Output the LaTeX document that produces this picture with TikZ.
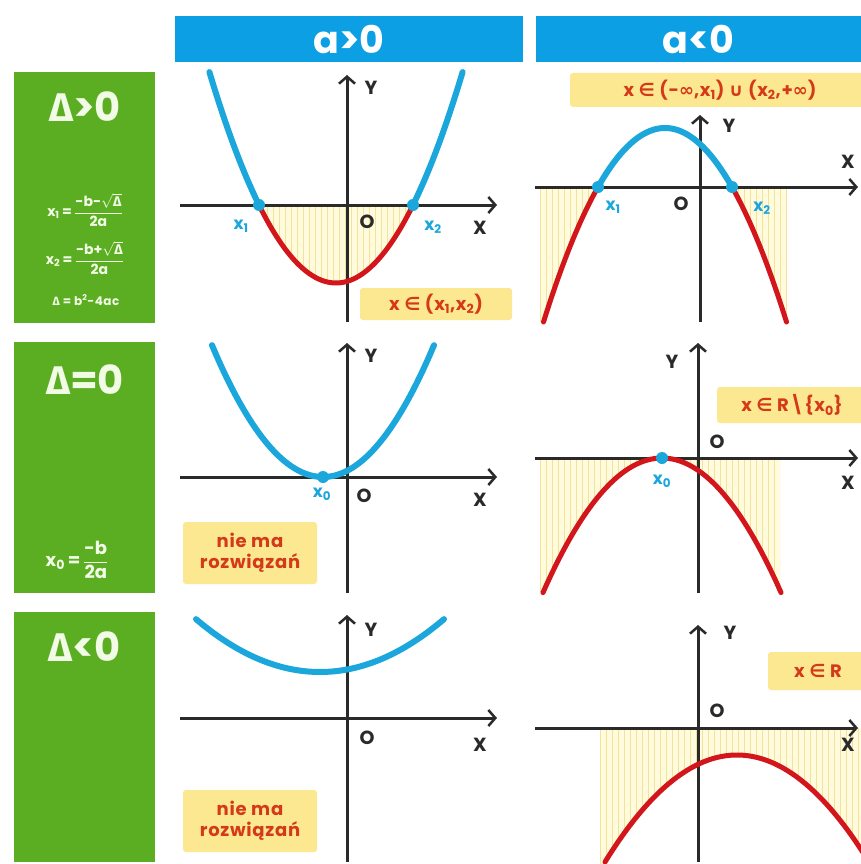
\documentclass[tikz,border=0pt]{standalone}
\usepackage{fontspec}
\usepackage{amsmath}
\setmainfont{Poppins}
\newfontfamily\sym{DejaVu Sans}
\newfontfamily\grk{Fira Sans}
\usetikzlibrary{arrows.meta}
\definecolor{grn}{HTML}{5BAE22}
\definecolor{hdr}{HTML}{0C9FE3}
\definecolor{cblue}{HTML}{1BA6DC}
\definecolor{cred}{HTML}{D2161C}
\definecolor{lbl}{HTML}{FCE890}
\definecolor{ltxt}{HTML}{D43A1A}
\definecolor{axc}{HTML}{2A2A2A}
\definecolor{hbg}{HTML}{FFFBDC}
\definecolor{hln}{HTML}{F2E39A}
\definecolor{gtxt}{HTML}{F2FBE6}
\newcommand{\hatchbox}[4]{%
  \begin{scope}
  \clip (#1,#2) rectangle (#3,#4);
  \fill[hbg] (#1,#2) rectangle (#3,#4);
  \foreach \hx in {0,6,...,330} {\draw[hln,line width=1] ({#1+\hx},#2) -- ({#1+\hx},#4);}
  \end{scope}
}
\begin{document}
\begin{tikzpicture}[x=1pt,y=-1pt,font=\bfseries,
  hdrbox/.style={fill=hdr,text=white,inner sep=0,font=\fontsize{38}{40}\selectfont\bfseries},
  gbox/.style={fill=grn,inner sep=0},
  gtitle/.style={text=gtxt,inner sep=0,font=\fontsize{40}{42}\selectfont\bfseries},
  gform/.style={text=gtxt,inner sep=0,font=\fontsize{14}{15}\selectfont\bfseries},
  axisline/.style={draw=axc,line width=3,-{Straight Barb[length=7,width=16,line width=2.5]}},
  bluec/.style={draw=cblue,line width=6,line cap=round},
  redc/.style={draw=cred,line width=5,line cap=round},
  rootdot/.style={fill=cblue,circle,inner sep=0,minimum size=12},
  axlbl/.style={text=axc,inner sep=0,font=\fontsize{19}{20}\selectfont\bfseries},
  rootlbl/.style={text=cblue,inner sep=0,font=\fontsize{17}{18}\selectfont\bfseries},
  lblbox/.style={fill=lbl,text=ltxt,rounded corners=3,inner sep=0,font=\fontsize{18}{21}\selectfont\bfseries\addfontfeature{LetterSpace=4},align=center}
]
\useasboundingbox (0,0) rectangle (861,864);
\fill[white] (0,0) rectangle (861,864);

% headers
\node[hdrbox,minimum width=348,minimum height=46] (ha) at (349,39) {a>0};
\node[hdrbox,minimum width=325,minimum height=46] (hb) at (698.5,39) {a<0};

% green boxes
\node[gbox,minimum width=141,minimum height=251] (g1) at (84.5,197.5) {};
\node[gbox,minimum width=141,minimum height=251] (g2) at (84.5,467.5) {};
\node[gbox,minimum width=141,minimum height=250] (g3) at (84.5,737) {};
\node[gtitle] (t1) at (85,107) {{\grk Δ}>0};
\node[gtitle] (t2) at (85,380) {{\grk Δ}=0};
\node[gtitle] (t3) at (85,647) {{\grk Δ}<0};
\node[gform] (f1) at (85,210) {$\text{x}_{\text{1}}\,\text{=}\,\dfrac{\text{-b-}\sqrt{\text{\grk Δ}}}{\text{2a}}$};
\node[gform] (f2) at (85,258) {$\text{x}_{\text{2}}\,\text{=}\,\dfrac{\text{-b+}\sqrt{\text{\grk Δ}}}{\text{2a}}$};
\node[gform,font=\fontsize{12}{13}\selectfont\bfseries\addfontfeature{LetterSpace=4}] (f3) at (86,300) {{\grk Δ} = b\textsuperscript{2}-4ac};
\node[gform,font=\fontsize{18}{19}\selectfont\bfseries] (f4) at (77,560) {$\text{x}_{\text{0}}\,\text{=}\,\dfrac{\text{-b}}{\text{2a}}$};

%%%%%%%% Row 1 left
\begin{scope}
  \clip plot[domain=259:413,samples=40] (\x,{283-1.316*((\x-336)/10)^2}) -- cycle;
  \hatchbox{255}{205}{420}{290}
\end{scope}
\draw[axisline] (180,205) -- (497,205);
\draw[axisline] (347,322) -- (347,75);
\draw[bluec] plot[domain=209.4:259,samples=30,smooth] (\x,{283-1.316*((\x-336)/10)^2});
\draw[bluec] plot[domain=413:462.6,samples=30,smooth] (\x,{283-1.316*((\x-336)/10)^2});
\draw[redc] plot[domain=259:413,samples=50,smooth] (\x,{283-1.316*((\x-336)/10)^2});
\node[rootdot] (a1) at (259,205) {};
\node[rootdot] (a2) at (413,205) {};
\node[rootlbl] (a1l) at (241,226) {x\textsubscript{1}};
\node[rootlbl] (a2l) at (433,227) {x\textsubscript{2}};
\node[axlbl] (aO) at (367,222) {O};
\node[axlbl] (aX) at (480,228) {X};
\node[axlbl] (aY) at (371,88) {Y};
\node[lblbox,minimum width=152,minimum height=32] (ab) at (436,304) {x {\sym ∈} (x\textsubscript{1},x\textsubscript{2})};

%%%%%%%% Row 1 right
\hatchbox{540}{187}{787}{322}
\fill[white] plot[domain=543.5:786.5,samples=50] (\x,{128+1.314*((\x-665)/10)^2}) -- cycle;
\draw[axisline] (535,187) -- (858,187);
\draw[axisline] (700,322) -- (700,115);
\draw[bluec] plot[domain=598:732,samples=50,smooth] (\x,{128+1.314*((\x-665)/10)^2});
\draw[redc] plot[domain=543.5:598,samples=30,smooth] (\x,{128+1.314*((\x-665)/10)^2});
\draw[redc] plot[domain=732:786.5,samples=30,smooth] (\x,{128+1.314*((\x-665)/10)^2});
\node[rootdot] (b1) at (598,187) {};
\node[rootdot] (b2) at (732,187) {};
\node[rootlbl] (b1l) at (613,207) {x\textsubscript{1}};
\node[rootlbl] (b2l) at (762,208) {x\textsubscript{2}};
\node[axlbl] (bO) at (681,204) {O};
\node[axlbl] (bX) at (848,162) {X};
\node[axlbl] (bY) at (729,126) {Y};
\node[lblbox,minimum width=300,minimum height=34] (bb) at (720,90) {x {\sym ∈} (-{\sym ∞},x\textsubscript{1}) {\sym ∪} (x\textsubscript{2},+{\sym ∞})};

%%%%%%%% Row 2 left
\draw[axisline] (180,477) -- (497,477);
\draw[axisline] (347,593) -- (347,343);
\draw[bluec] plot[domain=212:434,samples=60,smooth] (\x,{477-1.07*((\x-323)/10)^2});
\node[rootdot] (c0) at (323,477) {};
\node[rootlbl] (c0l) at (322,494) {x\textsubscript{0}};
\node[axlbl] (cO) at (364,496) {O};
\node[axlbl] (cX) at (480,500) {X};
\node[axlbl] (cY) at (371,356) {Y};
\node[lblbox,minimum width=134,minimum height=62] (cb) at (250,553) {nie ma\\rozwiązań};

%%%%%%%% Row 2 right
\hatchbox{540}{458}{780}{592}
\fill[white] plot[domain=543:781,samples=50] (\x,{458+0.95*((\x-662)/10)^2}) -- cycle;
\draw[axisline] (535,458) -- (858,458);
\draw[axisline] (698,593) -- (698,343);
\draw[redc] plot[domain=543:781,samples=60,smooth] (\x,{458+0.95*((\x-662)/10)^2});
\node[rootdot] (d0) at (662,458) {};
\node[rootlbl] (d0l) at (662,481) {x\textsubscript{0}};
\node[axlbl] (dO) at (717,442) {O};
\node[axlbl] (dX) at (848,483) {X};
\node[axlbl] (dY) at (672,362) {Y};
\node[lblbox,minimum width=150,minimum height=36] (db) at (792,405) {x {\sym ∈} R\textbackslash\{x\textsubscript{0}\}};

%%%%%%%% Row 3 left
\draw[axisline] (180,718) -- (497,718);
\draw[axisline] (347,862) -- (347,615);
\draw[bluec] plot[domain=196:444,samples=60,smooth] (\x,{672-0.344*((\x-320)/10)^2});
\node[axlbl] (eO) at (367,738) {O};
\node[axlbl] (eX) at (480,745) {X};
\node[axlbl] (eY) at (371,630) {Y};
\node[lblbox,minimum width=134,minimum height=62] (eb) at (250,821) {nie ma\\rozwiązań};

%%%%%%%% Row 3 right
\hatchbox{600}{728}{861}{864}
\fill[white] plot[domain=600:870,samples=50] (\x,{755+0.614*((\x-737)/10)^2}) -- cycle;
\draw[axisline] (535,728) -- (858,728);
\draw[axisline] (698,862) -- (698,625);
\draw[redc] plot[domain=605:870,samples=60,smooth] (\x,{755+0.614*((\x-737)/10)^2});
\node[axlbl] (fO) at (717,711) {O};
\node[axlbl] (fX) at (848,745) {X};
\node[axlbl] (fY) at (730,633) {Y};
\node[lblbox,minimum width=100,minimum height=38] (fb) at (818,671) {x {\sym ∈} R};
\end{tikzpicture}
\end{document}
